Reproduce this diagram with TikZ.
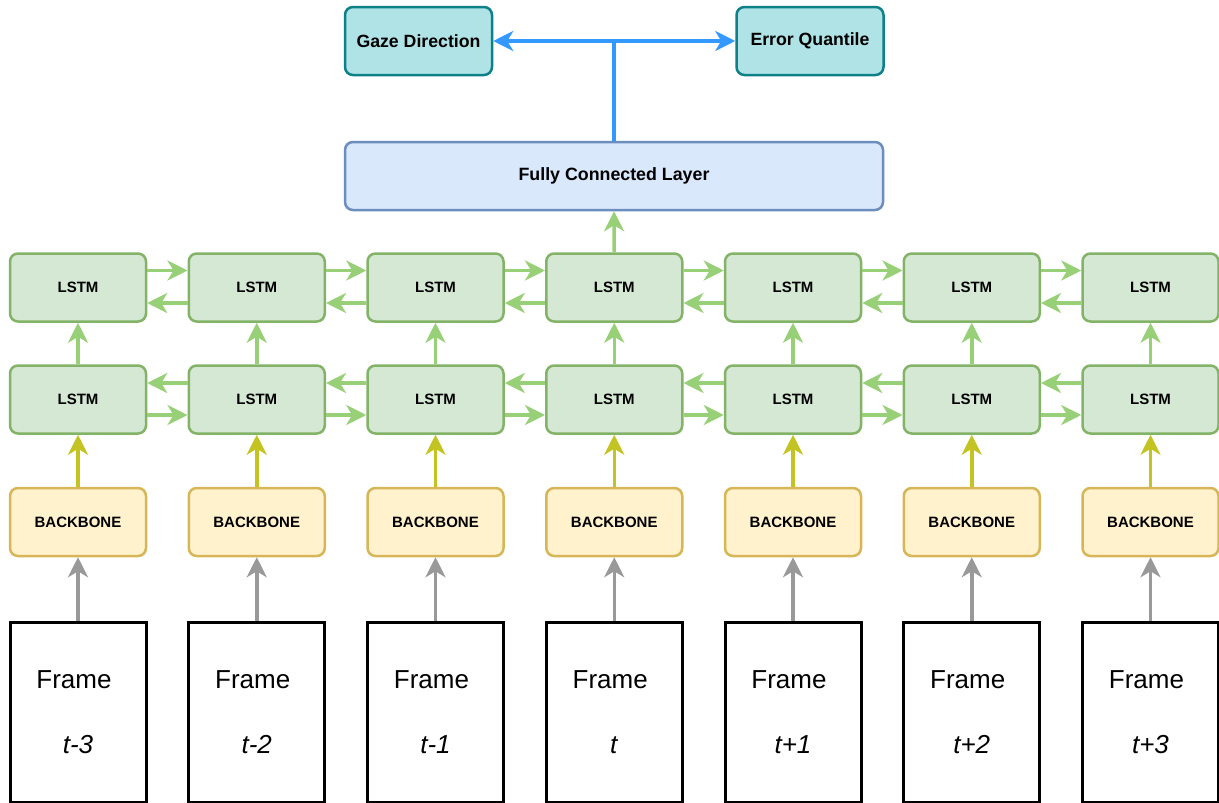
\documentclass[tikz,border=0pt]{standalone}
\usepackage{fontspec}
\setmainfont{Liberation Sans}
\usetikzlibrary{arrows.meta}

\definecolor{lstmfill}{HTML}{D5E8D4}
\definecolor{lstmline}{HTML}{82B366}
\definecolor{bbfill}{HTML}{FFF2CC}
\definecolor{bbline}{HTML}{D6B656}
\definecolor{fcfill}{HTML}{DAE8FC}
\definecolor{fcline}{HTML}{6C8EBF}
\definecolor{outfill}{HTML}{B0E3E6}
\definecolor{outline}{HTML}{0E8088}
\definecolor{greenarrow}{HTML}{97D077}
\definecolor{olivearrow}{HTML}{C3C322}
\definecolor{grayarrow}{HTML}{999999}
\definecolor{bluearrow}{HTML}{3399FF}

\tikzset{
  box/.style={line width=2.5pt, rounded corners=8pt, inner sep=0pt,
    minimum height=68pt, font=\fontsize{15}{18}\selectfont\bfseries},
  lstmbox/.style={box, draw=lstmline, fill=lstmfill, minimum width=136pt},
  backbonebox/.style={box, draw=bbline, fill=bbfill, minimum width=136pt},
  fcbox/.style={box, draw=fcline, fill=fcfill, minimum width=538pt,
    font=\fontsize{17.8}{21}\selectfont\bfseries},
  outbox/.style={box, draw=outline, fill=outfill, minimum width=147pt,
    font=\fontsize{17.7}{21}\selectfont\bfseries},
  framebox/.style={draw=black, line width=3pt, minimum width=136pt,
    minimum height=180pt, inner sep=0pt},
  frametxt/.style={anchor=base, inner sep=0pt,
    font=\fontsize{26}{30}\selectfont},
  tip/.style={-{Stealth[length=20pt,width=20pt,inset=6pt]}},
  garr/.style={tip, draw=greenarrow, line width=3.5pt},
  oarr/.style={tip, draw=olivearrow, line width=3.5pt},
  grarr/.style={tip, draw=grayarrow, line width=3.5pt},
  barr/.style={tip, draw=bluearrow, line width=3.5pt},
}

\begin{document}
\begin{tikzpicture}[x=1pt, y=-1pt]
\useasboundingbox (0,0) rectangle (1219,803);

% output heads and the fully connected layer
\node[outbox] (gaze) at (418.5,41) {Gaze Direction};
\node[outbox] (err) at (810,41) {Error Quantile};
\node[fcbox] (fc) at (614,176) {Fully Connected Layer};

% one column per time step: frame, backbone, two LSTM layers
\foreach \i/\lab in {0/t-3,1/t-2,2/t-1,3/t,4/t+1,5/t+2,6/t+3} {
  \pgfmathsetmacro\cx{78+178.75*\i}
  \node[lstmbox] (up\i) at (\cx,287.5) {LSTM};
  \node[lstmbox] (lo\i) at (\cx,399.5) {LSTM};
  \node[backbonebox] (bb\i) at (\cx,522) {BACKBONE};
  \node[framebox] (fr\i) at (\cx,712) {};
  \node[frametxt] (frl\i) at (\cx-4,688) {Frame};
  \node[frametxt] (frt\i) at (\cx,753) {\textit{\lab}};
  \draw[grarr] (fr\i.north) -- (bb\i.south);
  \draw[oarr] (bb\i.north) -- (lo\i.south);
  \draw[garr] (lo\i.north) -- (up\i.south);
}

% recurrent connections in both directions
\foreach \i [evaluate=\i as \j using int(\i+1)] in {0,...,5} {
  \draw[garr] ([yshift=17pt]up\i.east) -- ([yshift=17pt]up\j.west);
  \draw[garr] ([yshift=-15.5pt]up\j.west) -- ([yshift=-15.5pt]up\i.east);
  \draw[garr] ([yshift=16.5pt]lo\j.west) -- ([yshift=16.5pt]lo\i.east);
  \draw[garr] ([yshift=-15.5pt]lo\i.east) -- ([yshift=-15.5pt]lo\j.west);
}

% middle step feeds the fully connected layer
\draw[garr] (up3.north) -- (fc.south);

% split to the two outputs
\coordinate (split) at (fc.north |- gaze.east);
\draw[line width=3.5pt, draw=bluearrow] (fc.north) -- (split);
\draw[barr] (split) -- (gaze.east);
\draw[barr] (split) -- (err.west);
\end{tikzpicture}
\end{document}
